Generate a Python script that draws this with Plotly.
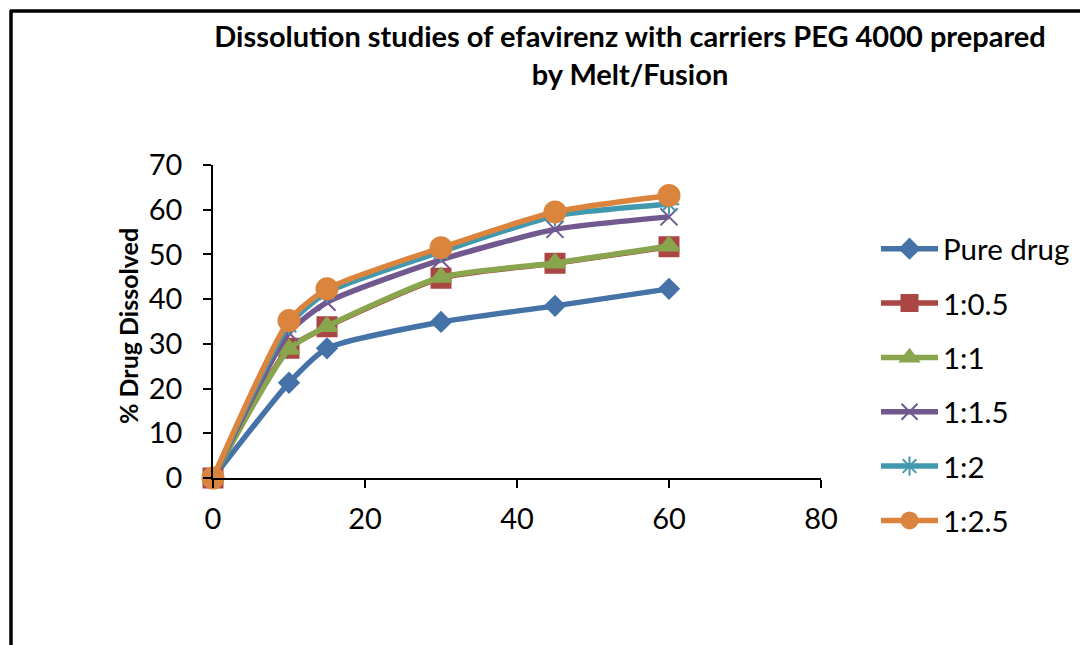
import plotly.graph_objects as go

time_min = [0, 10, 15, 30, 45, 60]
series_names = ["Pure drug", "1:0.5", "1:1", "1:1.5", "1:2", "1:2.5"]
pure_drug = [0, 21.3, 29.0, 34.9, 38.5, 42.3]
r_1_05 = [0, 29.0, 33.8, 44.7, 48.0, 51.7]
r_1_1 = [0, 28.8, 33.9, 44.9, 48.1, 51.9]
r_1_15 = [0, 32.5, 39.3, 48.8, 55.6, 58.4]
r_1_2 = [0, 34.2, 41.5, 50.6, 58.6, 61.2]
r_1_25 = [0, 35.2, 42.3, 51.5, 59.5, 63.2]
x_ticks = [0, 20, 40, 60, 80]
y_ticks = [0, 10, 20, 30, 40, 50, 60, 70]
y_title = "% Drug Dissolved"
chart_title = "Dissolution studies of efavirenz with carriers PEG 4000 prepared<br>by Melt/Fusion"

colors = ["#4572A7", "#AA4643", "#89A54E", "#71588F", "#4198AF", "#DB843D"]
symbols = ["diamond", "square", "triangle-up", "x-thin-open", "asterisk-open", "circle"]
sizes = [15, 19, 18, 17, 17, 21]
values = [pure_drug, r_1_05, r_1_1, r_1_15, r_1_2, r_1_25]

FONT = "Lato"
fig = go.Figure()
for name, ys, c, s, sz in zip(series_names, values, colors, symbols, sizes):
    fig.add_trace(go.Scatter(
        x=time_min, y=ys, name=name, legendgroup=name,
        mode="lines+markers", cliponaxis=False,
        line=dict(color=c, width=5.5, shape="spline", smoothing=0.6),
        marker=dict(symbol=s, size=sz, color=c, line=dict(color=c, width=2)),
    ))

L, R, T, B = 213, 259, 165, 167
pw = 1080 - L - R
ph = 645 - T - B

def px_x(p):
    return (p - L) / pw

def px_y(p):
    return (645 - B - p) / ph

fig.update_layout(
    width=1080, height=645,
    margin=dict(l=L, r=R, t=T, b=B, pad=0, autoexpand=False),
    paper_bgcolor="white", plot_bgcolor="white",
    font=dict(family=FONT, color="black"),
    title=dict(
        text=chart_title,
        x=630 / 1080, xanchor="center",
        y=1 - 47 / 645, yanchor="middle",
        font=dict(family=FONT, size=29, color="black", weight="bold"),
    ),
    xaxis=dict(
        range=[0, 80], tickvals=x_ticks, ticks="outside", ticklen=8, tickwidth=1.5,
        tickcolor="black", showline=True, linecolor="black", linewidth=1.5,
        showgrid=False, zeroline=False, tickfont=dict(size=29, family=FONT),
        ticklabelstandoff=6, fixedrange=True,
    ),
    yaxis=dict(
        range=[0, 70], tickvals=y_ticks, ticks="outside", ticklen=8, tickwidth=1.5,
        tickcolor="black", showline=True, linecolor="black", linewidth=1.5,
        showgrid=False, zeroline=False, tickfont=dict(size=29, family=FONT),
        ticklabelstandoff=15, fixedrange=True,
    ),
    legend=dict(
        x=px_x(876), y=px_y(223), xanchor="left", yanchor="top",
        font=dict(size=29.5, family=FONT), itemwidth=57, tracegroupgap=13,
        bgcolor="rgba(0,0,0,0)", maxheight=600,
    ),
    showlegend=True,
)

# y-axis title
fig.add_annotation(
    text=y_title, textangle=-90, xref="paper", yref="paper",
    x=px_x(128), y=px_y(326), xanchor="center", yanchor="middle",
    showarrow=False, font=dict(size=25, family=FONT, color="black", weight="bold"),
)

# outer chart border (left and top edges visible)
fig.add_shape(type="line", xref="paper", yref="paper",
              x0=px_x(11), x1=px_x(11), y0=px_y(10), y1=px_y(660),
              line=dict(color="black", width=3.5))
fig.add_shape(type="line", xref="paper", yref="paper",
              x0=px_x(10), x1=px_x(1090), y0=px_y(11), y1=px_y(11),
              line=dict(color="black", width=3.5))

fig.write_html("out.html")
